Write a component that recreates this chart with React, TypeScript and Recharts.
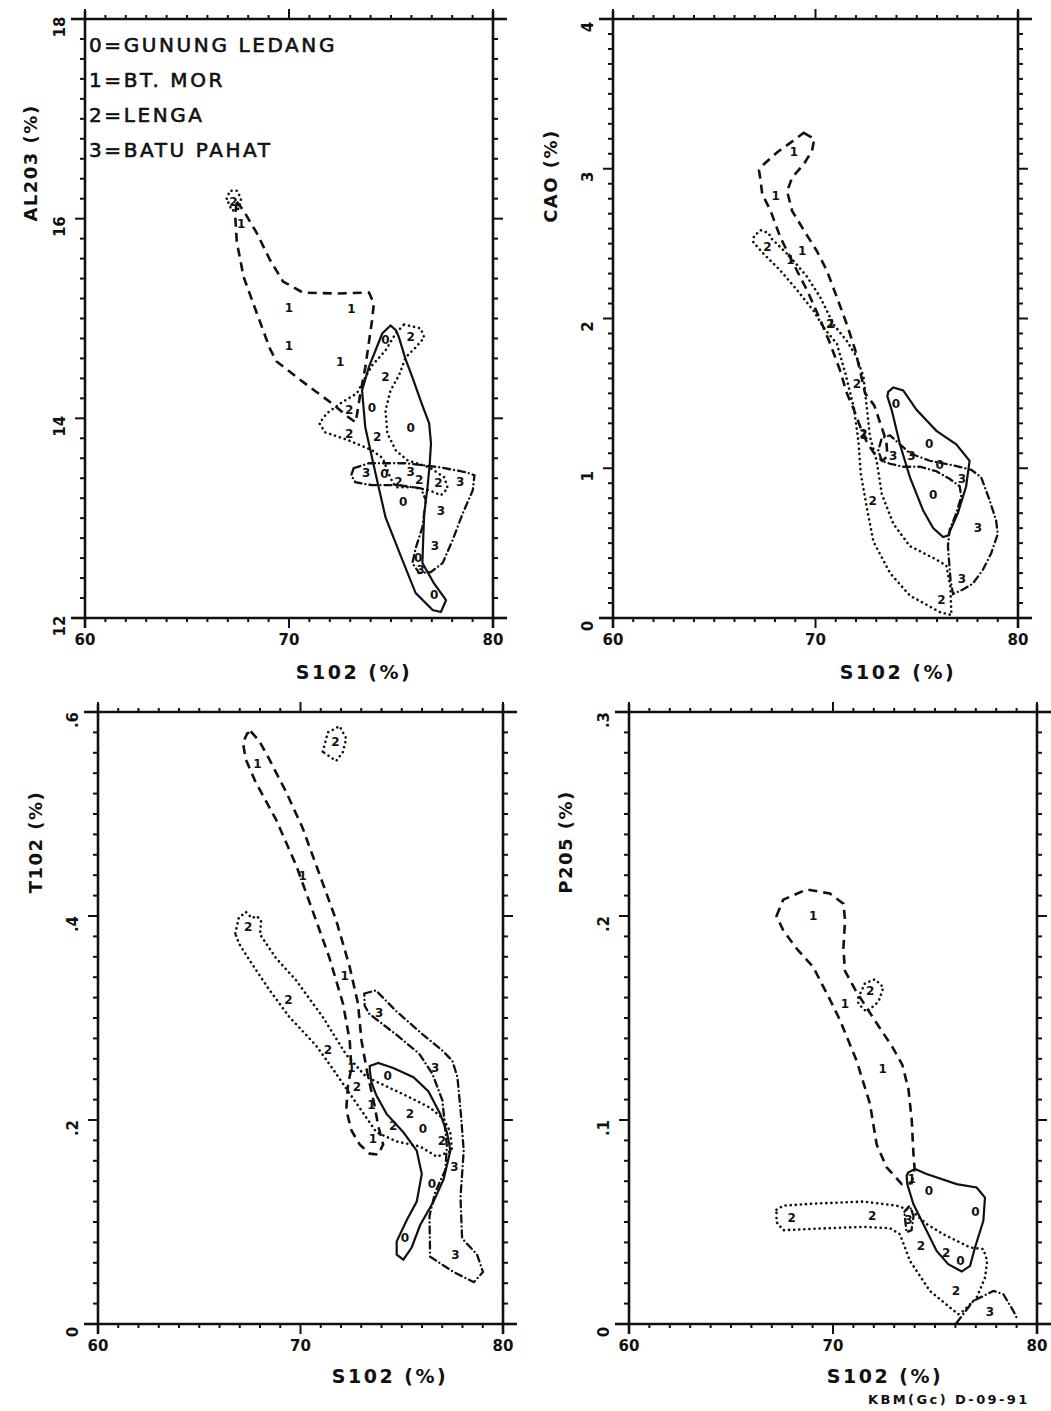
import React from 'react';
import { ScatterChart, Scatter, XAxis, YAxis } from 'recharts';

type Pair = [number, number];

// ---- shared SiO2 axis
const siMajor = [60, 70, 80];
const siLabels = ['60', '70', '80'];

// ---- Al2O3 vs SiO2 (top left)
const alMajor = [12, 14, 16, 18];
const alLabels = ['12', '14', '16', '18'];
const p1Ledang: Pair[] = [[74.73, 14.78], [74.07, 14.1], [75.97, 13.9], [74.68, 13.44], [75.6, 13.16], [76.33, 12.6], [77.12, 12.23]];
const p1BtMor: Pair[] = [[67.65, 15.95], [70.0, 15.11], [73.06, 15.1], [70.0, 14.72], [72.51, 14.56]];
const p1Lenga: Pair[] = [[67.28, 16.17], [75.97, 14.81], [74.73, 14.41], [72.95, 14.08], [72.95, 13.84], [74.32, 13.81], [75.36, 13.36], [76.38, 13.38], [77.32, 13.35]];
const p1Batu: Pair[] = [[73.78, 13.45], [75.97, 13.46], [78.39, 13.36], [77.45, 13.07], [77.15, 12.72], [76.46, 12.48]];
const p1LedangEnv: Pair[] = [[74.98, 14.93], [75.25, 14.88], [75.39, 14.81], [75.7, 14.6], [76.05, 14.41], [76.5, 14.15], [76.87, 13.95], [76.96, 13.75], [76.9, 13.55], [76.79, 13.31], [76.63, 13.05], [76.58, 12.8], [76.54, 12.55], [77.1, 12.35], [77.7, 12.18], [77.45, 12.06], [77.04, 12.08], [76.21, 12.25], [75.56, 12.58], [74.73, 13.01], [74.24, 13.45], [73.74, 13.91], [73.58, 14.28], [73.91, 14.51], [74.57, 14.85]];
const p1BtMorEnv: Pair[] = [[67.44, 16.17], [67.77, 16.08], [68.41, 15.86], [69.06, 15.59], [69.71, 15.37], [70.68, 15.26], [72.3, 15.25], [73.92, 15.26], [74.16, 15.15], [74.07, 14.98], [73.74, 14.51], [73.5, 14.25], [73.27, 13.96], [72.92, 14.01], [72.1, 14.15], [70.78, 14.35], [69.39, 14.57], [69.06, 14.7], [68.41, 15.06], [67.77, 15.42], [67.44, 15.77], [67.36, 16.04]];
const p1LengaEnv: Pair[] = [[75.64, 14.94], [76.46, 14.9], [76.63, 14.81], [76.21, 14.71], [75.72, 14.61], [75.39, 14.43], [74.98, 14.28], [74.73, 14.08], [74.82, 13.85], [75.23, 13.68], [75.8, 13.58], [76.87, 13.51], [77.61, 13.41], [77.78, 13.3], [77.45, 13.23], [76.87, 13.28], [76.05, 13.31], [75.23, 13.31], [74.98, 13.4], [74.6, 13.6], [74.07, 13.68], [72.92, 13.78], [71.77, 13.86], [71.49, 13.95], [71.85, 14.05], [72.59, 14.16], [73.33, 14.25], [73.66, 14.38], [74.07, 14.53], [74.73, 14.68], [75.23, 14.85]];
const p1LengaLoop: Pair[] = [[66.95, 16.2], [67.1, 16.28], [67.45, 16.28], [67.65, 16.2], [67.55, 16.1], [67.2, 16.08]];
const p1BatuEnv: Pair[] = [[73.17, 13.5], [73.91, 13.55], [75.72, 13.55], [77.37, 13.51], [78.68, 13.46], [79.09, 13.43], [79.01, 13.28], [78.52, 13.05], [78.02, 12.78], [77.53, 12.55], [76.95, 12.46], [76.38, 12.45], [76.05, 12.55], [76.21, 12.7], [76.54, 12.91], [76.71, 13.18], [76.46, 13.3], [75.39, 13.33], [74.07, 13.33], [73.25, 13.36], [73.05, 13.43]];

// ---- CaO vs SiO2 (top right)
const caMajor = [0, 1, 2, 3, 4];
const caLabels = ['0', '1', '2', '3', '4'];
const p2Ledang: Pair[] = [[73.97, 1.43], [75.61, 1.16], [76.13, 1.02], [75.81, 0.82]];
const p2BtMor: Pair[] = [[68.93, 3.11], [68.03, 2.82], [68.76, 2.39], [69.34, 2.45], [70.78, 1.96], [72.4, 1.22]];
const p2Lenga: Pair[] = [[67.62, 2.48], [70.73, 1.96], [72.04, 1.56], [72.37, 1.23], [72.82, 0.78], [76.22, 0.12]];
const p2Batu: Pair[] = [[73.84, 1.08], [74.74, 1.08], [77.23, 0.93], [78.02, 0.6], [77.23, 0.26]];
const p2LedangEnv: Pair[] = [[73.59, 1.51], [73.84, 1.54], [74.33, 1.52], [74.99, 1.39], [75.97, 1.25], [76.95, 1.16], [77.61, 1.05], [77.44, 0.88], [77.03, 0.7], [76.54, 0.55], [76.3, 0.54], [75.81, 0.6], [75.31, 0.72], [74.66, 0.94], [74.17, 1.16], [73.76, 1.39], [73.55, 1.48]];
const p2BtMorEnv: Pair[] = [[69.42, 3.24], [69.94, 3.2], [69.83, 3.12], [69.42, 3.03], [68.84, 2.94], [68.6, 2.85], [68.84, 2.72], [69.42, 2.59], [70.07, 2.45], [70.56, 2.32], [71.06, 2.14], [71.55, 1.96], [71.96, 1.79], [72.2, 1.65], [72.45, 1.5], [72.9, 1.42], [73.2, 1.3], [73.5, 1.18], [73.55, 1.08], [73.3, 1.05], [72.9, 1.1], [72.55, 1.17], [72.2, 1.28], [71.87, 1.4], [71.55, 1.5], [71.22, 1.65], [70.73, 1.83], [70.24, 1.99], [69.58, 2.19], [68.93, 2.36], [68.27, 2.54], [67.78, 2.72], [67.37, 2.83], [67.29, 2.92], [67.21, 2.99], [67.45, 3.03], [68.11, 3.11], [68.93, 3.19]];
const p2LengaEnv: Pair[] = [[66.93, 2.51], [66.96, 2.55], [67.29, 2.59], [67.7, 2.57], [67.78, 2.54], [68.76, 2.41], [69.58, 2.28], [70.24, 2.14], [70.89, 1.96], [71.55, 1.85], [72.04, 1.74], [72.37, 1.61], [72.53, 1.41], [72.69, 1.21], [73.02, 1.05], [73.27, 0.83], [73.84, 0.63], [74.66, 0.48], [75.97, 0.39], [76.46, 0.35], [76.66, 0.21], [76.71, 0.02], [76.13, 0.04], [74.66, 0.15], [73.68, 0.3], [72.86, 0.51], [72.53, 0.74], [72.24, 0.96], [72.12, 1.18], [71.9, 1.4], [71.5, 1.62], [71.06, 1.83], [70.4, 1.94], [69.91, 2.05], [69.09, 2.19], [68.27, 2.32], [67.45, 2.43]];
const p2BatuEnv: Pair[] = [[73.27, 1.05], [73.1, 1.12], [73.27, 1.2], [73.68, 1.22], [74.66, 1.1], [75.64, 1.05], [76.79, 1.02], [77.69, 0.99], [78.18, 0.94], [78.59, 0.79], [78.92, 0.65], [79.0, 0.56], [78.67, 0.43], [78.26, 0.32], [77.77, 0.23], [77.28, 0.19], [76.79, 0.16], [76.67, 0.25], [76.54, 0.48], [76.63, 0.59], [76.95, 0.7], [77.2, 0.81], [77.12, 0.88], [76.62, 0.93], [75.97, 0.98], [75.15, 1.01], [74.33, 1.01], [73.68, 1.03]];

// ---- TiO2 vs SiO2 (bottom left)
const tiMajor = [0, 0.2, 0.4, 0.6];
const tiLabels = ['0', '.2', '.4', '.6'];
const p3Ledang: Pair[] = [[74.3, 0.243], [76.04, 0.191], [76.49, 0.137], [75.16, 0.084]];
const p3BtMor: Pair[] = [[67.87, 0.549], [70.11, 0.439], [72.18, 0.341], [72.51, 0.251], [73.5, 0.215], [73.58, 0.181]];
const p3Lenga: Pair[] = [[71.73, 0.571], [67.42, 0.389], [69.41, 0.318], [71.35, 0.269], [72.79, 0.232], [75.41, 0.206], [74.58, 0.194], [76.98, 0.179]];
const p3Batu: Pair[] = [[73.89, 0.305], [76.65, 0.251], [77.6, 0.154], [77.65, 0.068]];
const p3LedangEnv: Pair[] = [[73.42, 0.253], [73.84, 0.256], [74.58, 0.251], [75.58, 0.242], [76.32, 0.228], [76.9, 0.206], [77.23, 0.188], [77.4, 0.17], [77.07, 0.142], [76.57, 0.12], [75.91, 0.097], [75.49, 0.075], [75.08, 0.063], [74.75, 0.068], [74.75, 0.081], [75.25, 0.102], [75.74, 0.12], [75.99, 0.147], [75.74, 0.17], [75.08, 0.188], [74.25, 0.206], [73.75, 0.224], [73.5, 0.237], [73.42, 0.249]];
const p3BtMorEnv: Pair[] = [[67.54, 0.581], [67.95, 0.572], [68.45, 0.554], [69.28, 0.522], [70.11, 0.486], [71.1, 0.432], [71.76, 0.396], [72.43, 0.35], [72.84, 0.314], [73.01, 0.278], [73.3, 0.246], [73.65, 0.215], [73.84, 0.194], [74.08, 0.176], [73.84, 0.166], [73.42, 0.167], [72.92, 0.176], [72.51, 0.19], [72.26, 0.21], [72.34, 0.233], [72.51, 0.251], [72.43, 0.278], [72.1, 0.314], [71.43, 0.359], [70.6, 0.405], [69.78, 0.45], [68.78, 0.495], [67.79, 0.531], [67.29, 0.554], [67.16, 0.57], [67.37, 0.579]];
const p3LengaEnv: Pair[] = [[66.78, 0.383], [66.95, 0.398], [67.3, 0.404], [67.6, 0.398], [67.85, 0.4], [68.05, 0.395], [68.0, 0.382], [68.78, 0.359], [69.78, 0.337], [71.1, 0.301], [72.26, 0.264], [73.26, 0.242], [74.25, 0.233], [75.41, 0.222], [76.4, 0.212], [77.07, 0.201], [77.4, 0.188], [77.48, 0.17], [76.74, 0.164], [75.91, 0.174], [74.75, 0.179], [73.75, 0.188], [73.09, 0.207], [72.43, 0.226], [71.6, 0.25], [70.77, 0.273], [69.45, 0.301], [68.45, 0.328], [67.54, 0.355], [66.96, 0.373]];
const p3LengaLoop: Pair[] = [[71.1, 0.561], [71.35, 0.58], [71.93, 0.586], [72.26, 0.574], [72.1, 0.561], [71.76, 0.552]];
const p3BatuEnv: Pair[] = [[73.15, 0.324], [73.73, 0.327], [74.71, 0.307], [76.03, 0.284], [77.01, 0.268], [77.5, 0.258], [77.75, 0.242], [77.92, 0.206], [78.06, 0.17], [77.9, 0.124], [77.98, 0.084], [78.72, 0.068], [79.01, 0.051], [78.56, 0.041], [77.56, 0.051], [76.4, 0.066], [76.37, 0.106], [76.65, 0.129], [77.15, 0.151], [77.23, 0.174], [77.01, 0.219], [76.52, 0.245], [75.86, 0.265], [74.71, 0.284], [73.4, 0.304], [73.17, 0.312]];

// ---- P2O5 vs SiO2 (bottom right)
const pMajor = [0, 0.1, 0.2, 0.3];
const pLabels = ['0', '.1', '.2', '.3'];
const p4Ledang: Pair[] = [[74.7, 0.065], [76.98, 0.055], [76.25, 0.031]];
const p4BtMor: Pair[] = [[69.03, 0.2], [70.59, 0.157], [72.44, 0.125], [73.86, 0.071]];
const p4Lenga: Pair[] = [[71.82, 0.163], [67.97, 0.052], [71.92, 0.053], [74.31, 0.038], [75.55, 0.035], [76.02, 0.016]];
const p4Batu: Pair[] = [[73.7, 0.051], [77.69, 0.006]];
const p4LedangEnv: Pair[] = [[73.69, 0.0743], [74.02, 0.076], [74.59, 0.0735], [76.06, 0.0686], [77.04, 0.0669], [77.45, 0.062], [77.37, 0.0506], [76.96, 0.0375], [76.72, 0.0285], [76.31, 0.0257], [75.65, 0.0293], [75.08, 0.0358], [74.59, 0.0457], [73.94, 0.0588], [73.64, 0.0686], [73.61, 0.0727]];
const p4BtMorEnv: Pair[] = [[67.23, 0.2], [67.56, 0.208], [68.71, 0.213], [69.85, 0.211], [70.51, 0.206], [70.59, 0.198], [70.51, 0.184], [70.59, 0.173], [71.08, 0.164], [71.65, 0.155], [72.3, 0.145], [72.9, 0.136], [73.4, 0.127], [73.7, 0.115], [73.86, 0.1], [73.94, 0.084], [74.0, 0.076], [73.85, 0.069], [73.37, 0.0686], [72.63, 0.0768], [72.14, 0.088], [71.81, 0.108], [71.16, 0.129], [70.34, 0.149], [69.85, 0.159], [69.03, 0.175], [68.22, 0.184], [67.56, 0.193]];
const p4LengaEnv: Pair[] = [[67.23, 0.056], [67.56, 0.058], [69.03, 0.059], [71.49, 0.06], [73.12, 0.058], [73.86, 0.0555], [74.59, 0.049], [75.41, 0.044], [76.72, 0.0375], [77.37, 0.0367], [77.56, 0.031], [77.45, 0.0227], [77.04, 0.0129], [76.39, 0.0064], [76.14, 0.0048], [74.75, 0.0162], [73.77, 0.031], [73.28, 0.044], [72.79, 0.047], [71.49, 0.0476], [69.85, 0.047], [67.56, 0.046], [67.23, 0.05]];
const p4LengaLoop: Pair[] = [[71.24, 0.16], [71.57, 0.167], [72.06, 0.169], [72.47, 0.165], [72.23, 0.158], [71.65, 0.153], [71.24, 0.157]];
const p4BatuLoop: Pair[] = [[73.5, 0.055], [73.75, 0.058], [73.95, 0.053], [73.85, 0.046], [73.6, 0.045]];
const p4BatuTail: Pair[] = [[76.06, 0.0006], [76.88, 0.0113], [77.86, 0.0162], [78.35, 0.0146], [78.84, 0.0064], [79.0, 0.0031]];

type Kind = 'solid' | 'dash' | 'dot' | 'dashdot';

const lineStyles: Record<Kind, any> = {
  solid: { stroke: '#111', strokeWidth: 2.2, fill: 'none' },
  dash: { stroke: '#111', strokeWidth: 2.6, strokeDasharray: '9 6', fill: 'none' },
  dot: { stroke: '#111', strokeWidth: 2.6, strokeDasharray: '0.1 5', strokeLinecap: 'round', fill: 'none' },
  dashdot: { stroke: '#111', strokeWidth: 2.3, strokeDasharray: '7 4 0.1 4', strokeLinecap: 'round', fill: 'none' },
};

const toPoints = (a: Pair[]) => a.map(([x, y]) => ({ x, y }));

const steps = (lo: number, hi: number, n: number) =>
  Array.from({ length: n + 1 }, (_, i) => +(lo + ((hi - lo) * i) / n).toFixed(4));

const FONT = '"DejaVu Sans", Verdana, sans-serif';

const same = (a: number, b: number) => Math.abs(a - b) < 1e-6;

type Side = 'bottom' | 'top' | 'left' | 'right';

const makeTick = (side: Side, majors: number[], labels: string[] | null, lo: number, hi: number) =>
  (props: any) => {
    const { x, y, payload } = props;
    const v = payload.value;
    const mi = majors.findIndex((m) => same(m, v));
    const major = mi >= 0;
    const w = 2;
    const parts: React.ReactNode[] = [];
    if (side === 'bottom' || side === 'top') {
      const dir = side === 'bottom' ? 1 : -1;
      parts.push(<line key="t" x1={x} y1={y} x2={x} y2={y + dir * (major ? 10 : 4)} stroke="#111" strokeWidth={w} />);
      if (same(v, lo)) parts.push(<line key="e" x1={x - 14} y1={y} x2={x} y2={y} stroke="#111" strokeWidth={2.6} />);
      if (same(v, hi)) parts.push(<line key="e" x1={x} y1={y} x2={x + 14} y2={y} stroke="#111" strokeWidth={2.6} />);
      if (labels && major) {
        parts.push(
          <text key="l" x={x} y={y + 27} textAnchor="middle" fontFamily={FONT} fontWeight="bold" fontSize={15} fill="#111">
            {labels[mi]}
          </text>
        );
      }
    } else {
      const dir = side === 'left' ? -1 : 1;
      parts.push(<line key="t" x1={x} y1={y} x2={x + dir * (major ? 10 : 5)} y2={y} stroke="#111" strokeWidth={w} />);
      if (same(v, lo)) parts.push(<line key="e" x1={x} y1={y} x2={x} y2={y + 10} stroke="#111" strokeWidth={2.6} />);
      if (same(v, hi)) parts.push(<line key="e" x1={x} y1={y} x2={x} y2={y - 8} stroke="#111" strokeWidth={2.6} />);
      if (labels && major) {
        const tx = x - 25;
        const ty = y + 8;
        parts.push(
          <text key="l" x={tx} y={ty} transform={`rotate(-90 ${tx} ${ty})`} textAnchor="middle" dominantBaseline="central"
            fontFamily={FONT} fontWeight="bold" fontSize={15} fill="#111">
            {labels[mi]}
          </text>
        );
      }
    }
    return <g>{parts}</g>;
  };

const glyph = (ch: string) => (props: any) => (
  <text x={props.cx} y={props.cy} textAnchor="middle" dominantBaseline="central" fontFamily={FONT}
    fontWeight="bold" fontSize={12} fill="#111">
    {ch}
  </text>
);

const noMark = () => <g />;

interface Envelope { data: Pair[]; kind: Kind; open?: boolean }

interface PanelProps {
  box: { left: number; top: number; right: number; bottom: number };
  yDomain: [number, number];
  yDivisions: number;
  yMajor: number[];
  yLabels: string[];
  envelopes: Envelope[];
  groups: Pair[][];
}

// outer space round each plot frame; the axes take 1px each inside it
const M = { top: 22, right: 14, bottom: 40, left: 42 };

const Panel: React.FC<PanelProps> = ({ box, yDomain, yDivisions, yMajor, yLabels, envelopes, groups }) => {
  const w = box.right - box.left + M.left + M.right;
  const h = box.bottom - box.top + M.top + M.bottom;
  const xTicks = steps(60, 80, 20);
  const yTicks = steps(yDomain[0], yDomain[1], yDivisions);
  const axisLine = { stroke: '#111', strokeWidth: 2.6 };
  const margin = { top: M.top - 1, right: M.right - 1, bottom: M.bottom - 1, left: M.left - 1 };
  return (
    <div style={{ position: 'absolute', left: box.left - M.left, top: box.top - M.top }}>
      <ScatterChart width={w} height={h} margin={margin}>
        <XAxis xAxisId={0} type="number" dataKey="x" domain={[60, 80]} allowDataOverflow ticks={xTicks} interval={0}
          height={1} tickSize={0} tickMargin={0} axisLine={axisLine} tickLine={false}
          tick={makeTick('bottom', siMajor, siLabels, 60, 80)} />
        <XAxis xAxisId="top" orientation="top" type="number" dataKey="x" domain={[60, 80]} allowDataOverflow ticks={xTicks}
          interval={0} height={1} tickSize={0} tickMargin={0} axisLine={axisLine} tickLine={false}
          tick={makeTick('top', siMajor, null, 60, 80)} />
        <YAxis yAxisId={0} type="number" dataKey="y" domain={yDomain} allowDataOverflow ticks={yTicks} interval={0}
          width={1} tickSize={0} tickMargin={0} axisLine={axisLine} tickLine={false}
          tick={makeTick('left', yMajor, yLabels, yDomain[0], yDomain[1])} />
        <YAxis yAxisId="right" orientation="right" type="number" dataKey="y" domain={yDomain} allowDataOverflow ticks={yTicks}
          interval={0} width={1} tickSize={0} tickMargin={0} axisLine={axisLine} tickLine={false}
          tick={makeTick('right', yMajor, null, yDomain[0], yDomain[1])} />
        {envelopes.map((e, i) => (
          <Scatter key={'e' + i} data={toPoints(e.data)} line={lineStyles[e.kind]}
            lineJointType={e.open ? 'linear' : 'linearClosed'} shape={noMark} isAnimationActive={false} />
        ))}
        {groups.map((g, i) => (
          <Scatter key={'g' + i} data={toPoints(g)} shape={glyph(String(i))} isAnimationActive={false} />
        ))}
      </ScatterChart>
    </div>
  );
};

const txt = (extra: React.CSSProperties): React.CSSProperties => ({
  position: 'absolute',
  fontFamily: FONT,
  fontWeight: 'bold',
  color: '#111',
  whiteSpace: 'nowrap',
  ...extra,
});

const YTitle: React.FC<{ x: number; y: number; text: string }> = ({ x, y, text }) => (
  <div style={txt({ left: x, top: y, fontSize: 18, letterSpacing: 1.5, transform: 'translate(-50%, -50%) rotate(-90deg)' })}>
    {text}
  </div>
);

const XTitle: React.FC<{ x: number; y: number; text: string }> = ({ x, y, text }) => (
  <div style={txt({ left: x, top: y, fontSize: 19, letterSpacing: 2.5, transform: 'translate(-50%, -50%)' })}>{text}</div>
);

const legendLines = ['0=GUNUNG LEDANG', '1=BT. MOR', '2=LENGA', '3=BATU PAHAT'];

const App: React.FC = () => {
  return (
    <div style={{ position: 'absolute', left: 0, top: 0, width: 1051, height: 1411, background: '#fff', overflow: 'hidden' }}>
      <Panel
        box={{ left: 85, top: 19, right: 493, bottom: 618 }}
        yDomain={[12, 18]} yDivisions={30} yMajor={alMajor} yLabels={alLabels}
        envelopes={[
          { data: p1LedangEnv, kind: 'solid' },
          { data: p1BtMorEnv, kind: 'dash' },
          { data: p1LengaEnv, kind: 'dot' },
          { data: p1LengaLoop, kind: 'dot' },
          { data: p1BatuEnv, kind: 'dashdot' },
        ]}
        groups={[p1Ledang, p1BtMor, p1Lenga, p1Batu]}
      />
      <Panel
        box={{ left: 613, top: 19, right: 1018, bottom: 618 }}
        yDomain={[0, 4]} yDivisions={40} yMajor={caMajor} yLabels={caLabels}
        envelopes={[
          { data: p2LedangEnv, kind: 'solid' },
          { data: p2BtMorEnv, kind: 'dash' },
          { data: p2LengaEnv, kind: 'dot' },
          { data: p2BatuEnv, kind: 'dashdot' },
        ]}
        groups={[p2Ledang, p2BtMor, p2Lenga, p2Batu]}
      />
      <Panel
        box={{ left: 98, top: 712, right: 503, bottom: 1324 }}
        yDomain={[0, 0.6]} yDivisions={30} yMajor={tiMajor} yLabels={tiLabels}
        envelopes={[
          { data: p3LedangEnv, kind: 'solid' },
          { data: p3BtMorEnv, kind: 'dash' },
          { data: p3LengaEnv, kind: 'dot' },
          { data: p3LengaLoop, kind: 'dot' },
          { data: p3BatuEnv, kind: 'dashdot' },
        ]}
        groups={[p3Ledang, p3BtMor, p3Lenga, p3Batu]}
      />
      <Panel
        box={{ left: 629, top: 712, right: 1037, bottom: 1324 }}
        yDomain={[0, 0.3]} yDivisions={30} yMajor={pMajor} yLabels={pLabels}
        envelopes={[
          { data: p4LedangEnv, kind: 'solid' },
          { data: p4BtMorEnv, kind: 'dash' },
          { data: p4LengaEnv, kind: 'dot' },
          { data: p4LengaLoop, kind: 'dot' },
          { data: p4BatuLoop, kind: 'dashdot' },
          { data: p4BatuTail, kind: 'dashdot', open: true },
        ]}
        groups={[p4Ledang, p4BtMor, p4Lenga, p4Batu]}
      />

      {legendLines.map((s, i) => (
        <div key={s} style={txt({ left: 89, top: 33 + i * 35, fontSize: 20, fontWeight: 'normal', letterSpacing: 2.6, lineHeight: '24px', WebkitTextStroke: '0.6px #111' })}>
          {s}
        </div>
      ))}

      <YTitle x={30} y={163} text="AL203 (%)" />
      <YTitle x={550} y={176} text="CAO (%)" />
      <YTitle x={35} y={842} text="T102 (%)" />
      <YTitle x={565} y={842} text="P205 (%)" />

      <XTitle x={354} y={672} text="S102 (%)" />
      <XTitle x={898} y={672} text="S102 (%)" />
      <XTitle x={390} y={1376} text="S102 (%)" />
      <XTitle x={885} y={1376} text="S102 (%)" />

      <div style={txt({ left: 868, top: 1392, fontSize: 13, letterSpacing: 2.4 })}>KBM(Gc) D-09-91</div>
    </div>
  );
};

export default App;
